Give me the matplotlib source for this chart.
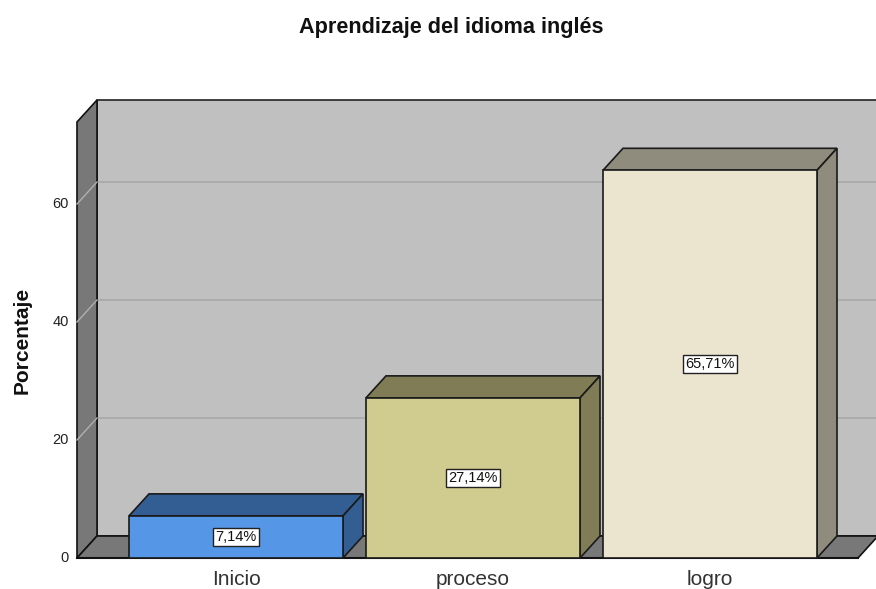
import matplotlib
matplotlib.use("Agg")
import matplotlib.pyplot as plt
from matplotlib.patches import Polygon, Rectangle

categories = ["Inicio", "proceso", "logro"]
values = [7.14, 27.14, 65.71]
labels = ["7,14%", "27,14%", "65,71%"]
yticks = [0, 20, 40, 60]

front_colors = ["#5596e6", "#d0cb8f", "#ebe5d0"]
dark_colors = ["#335e93", "#807c55", "#8f8b7d"]

plt.rcParams['font.family'] = ['Liberation Sans', 'DejaVu Sans']

W, H = 876, 589
fig = plt.figure(figsize=(W / 100, H / 100), dpi=100)
fig.patch.set_facecolor("white")

# front panel in pixels
px_left, px_right = 77, 858
py_bottom, py_top = 558, 122
ax = fig.add_axes([px_left / W, (H - py_bottom) / H,
                   (px_right - px_left) / W, (py_bottom - py_top) / H])

ppu_y = 5.9           # pixels per percent
ppu_x = 237           # pixels per category
cx0 = 236             # pixel centre of first category
xmin = (px_left - cx0) / ppu_x
xmax = (px_right - cx0) / ppu_x
ymax = (py_bottom - py_top) / ppu_y
ax.set_xlim(xmin, xmax)
ax.set_ylim(0, ymax)
ax.axis("off")

dx = 20 / ppu_x
dy = 22 / ppu_y
bw = 214 / ppu_x

wall_gray = "#787878"
back_gray = "#c0c0c0"

# back wall
ax.add_patch(Polygon([(xmin + dx, dy), (xmax + dx + 0.2, dy), (xmax + dx + 0.2, ymax + dy),
                      (xmin + dx, ymax + dy)], closed=True, facecolor=back_gray,
                     edgecolor="#222222", lw=1.2, clip_on=False, zorder=1))
# gridlines on back wall
for t in yticks[1:]:
    ax.plot([xmin + dx, xmax + dx + 0.2], [t + dy, t + dy], color="#a9a9a9", lw=1.2,
            clip_on=False, zorder=2)
# left wall
ax.add_patch(Polygon([(xmin, 0), (xmin + dx, dy), (xmin + dx, ymax + dy), (xmin, ymax)],
                     closed=True, facecolor=wall_gray, edgecolor="#111111", lw=1.2,
                     clip_on=False, zorder=3))
for t in yticks[1:]:
    ax.plot([xmin, xmin + dx], [t, t + dy], color="#b0b0b0", lw=1.0, clip_on=False, zorder=4)
# floor
ax.add_patch(Polygon([(xmin, 0), (xmax, 0), (xmax + dx, dy), (xmin + dx, dy)],
                     closed=True, facecolor=wall_gray, edgecolor="#111111", lw=1.2,
                     clip_on=False, zorder=3))

# bars
for i, (v, fc, dc, lab) in enumerate(zip(values, front_colors, dark_colors, labels)):
    x0 = i - bw / 2
    x1 = i + bw / 2
    ax.add_patch(Polygon([(x0, v), (x1, v), (x1 + dx, v + dy), (x0 + dx, v + dy)],
                         closed=True, facecolor=dc, edgecolor="#1a1a1a", lw=1.2,
                         clip_on=False, zorder=5))
    ax.add_patch(Polygon([(x1, 0), (x1 + dx, dy), (x1 + dx, v + dy), (x1, v)],
                         closed=True, facecolor=dc, edgecolor="#1a1a1a", lw=1.2,
                         clip_on=False, zorder=5))
    ax.add_patch(Rectangle((x0, 0), bw, v, facecolor=fc, edgecolor="#1a1a1a", lw=1.2,
                           clip_on=False, zorder=6))
    ax.text(i, v / 2, lab, ha="center", va="center", fontsize=10.5, color="#111111",
            zorder=7, bbox=dict(boxstyle="square,pad=0.15", facecolor="white",
                                edgecolor="#222222", lw=1.0))
    ax.text(i, -3.6, categories[i], ha="center", va="center", fontsize=15,
            color="#333333", clip_on=False)

# baseline
ax.plot([xmin, xmax], [0, 0], color="#111111", lw=1.5, clip_on=False, zorder=4)

# y tick labels
for t in yticks:
    ax.text(xmin - 0.035, t, str(t), ha="right", va="center", fontsize=10.5,
            color="#222222", clip_on=False)

fig.text(22 / W, 1 - 340 / H, "Porcentaje", rotation=90, ha="center", va="center",
         fontsize=15, fontweight="bold", color="#111111")
fig.text(451 / W, 1 - 28 / H, "Aprendizaje del idioma inglés", ha="center", va="center",
         fontsize=15.6, fontweight="bold", color="#111111")

fig.savefig("out.png", dpi=100)
